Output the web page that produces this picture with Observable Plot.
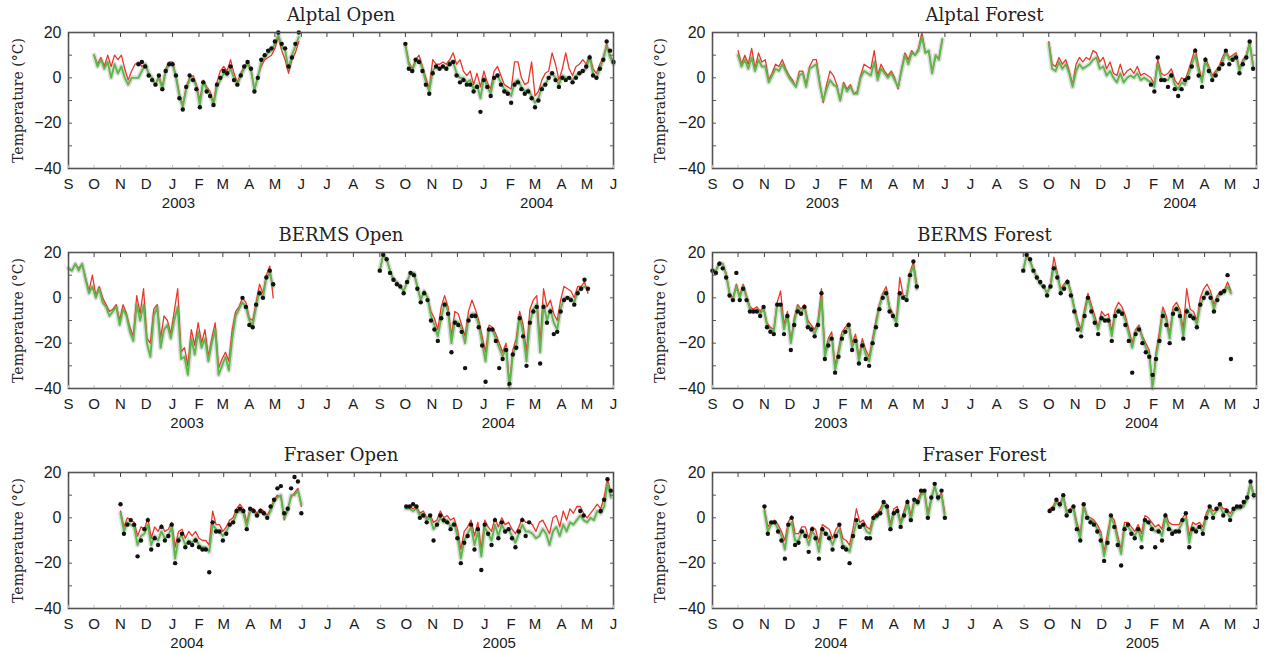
<!DOCTYPE html>
<html><head><meta charset="utf-8">
<script src="https://cdn.jsdelivr.net/npm/d3@7"></script>
<script src="https://cdn.jsdelivr.net/npm/@observablehq/plot@0.6"></script>
<style>
body{margin:0;background:#fff;}
#root{position:relative;width:1269px;height:653px;overflow:hidden;background:#fff}
.panel{position:absolute;overflow:hidden}
</style></head><body><div id="root"></div>
<script>
// ---------- labels ----------
const monthLetters = ["J","F","M","A","M","J","J","A","S","O","N","D"];
const panelTitles = ["Alptal Open","Alptal Forest","BERMS Open","BERMS Forest","Fraser Open","Fraser Forest"];
const axisStartYears = [2002, 2002, 2002, 2002, 2003, 2003];
const yearLabels = [[2003, 2004], [2003, 2004], [2003, 2004], [2003, 2004], [2004, 2005], [2004, 2005]];
const yearLabelDates = [["2003-01-08", "2004-03-03"], ["2003-01-08", "2004-03-03"], ["2003-01-18", "2004-01-18"], ["2003-01-18", "2004-01-18"], ["2004-01-18", "2005-01-18"], ["2004-01-18", "2005-01-18"]];
const yTicksLabelled = [-40, -20, 0, 20];
const stepDays = 4;

// ---------- segment start dates ----------
const alptalStarts = ["2002-10-01", "2003-10-01"];
const bermsStarts = ["2002-09-01", "2003-09-01"];
const fraserStarts = ["2003-11-01", "2004-10-01"];

// ---------- Alptal Open ----------
const alptalOpenGreen1 = [10,5,8,4,7,0,6,2,5,0,-3,0,0,0,3,6,2,0,-3,0,-5,3,6,6,0,-8,-13,-5,-1,0,-4,-12,-2,-5,-7,-12,-4,-1,2,1,4,0,-3,1,4,6,3,-5,0,7,9,11,12,15,19,14,12,4,10,14,18];
const alptalOpenRed1 = [10,6,9,5,10,5,10,8,10,4,-1,3,6,7,5,6,2,0,-3,1,-4,4,7,7,1,-7,-12,-4,0,1,-3,-10,-1,-4,-6,-11,-2,3,5,3,8,2,-2,2,5,7,4,-6,1,5,8,9,10,13,18,12,8,2,8,11,16];
const alptalOpenObs1 = [null,null,null,null,null,null,null,null,null,null,null,null,null,6,7,5,1,-1,-3,1,-5,3,6,6,1,-9,-14,-4,1,-1,-5,-13,-2,-6,-8,-12,-3,0,3,2,5,-1,-3,1,5,7,4,-6,0,8,10,12,13,16,20,15,13,5,9,15,20];
const alptalOpenGreen2 = [14,6,3,7,8,4,-2,-6,3,5,4,5,4,7,7,2,0,0,-2,-1,-5,-3,-9,0,-4,-7,0,1,-2,-5,-6,-8,-2,-1,-4,-6,-5,-8,-11,-9,-4,-3,0,2,0,-3,1,0,0,-1,1,2,3,4,9,2,0,4,8,14,9,6];
const alptalOpenRed2 = [15,7,4,8,10,5,0,-5,8,6,6,7,6,8,11,6,8,3,1,3,-3,2,-4,3,-2,-5,3,5,1,-3,-4,-5,7,7,0,-3,-2,7,-8,-6,-1,2,3,11,6,-1,4,11,4,1,5,6,8,6,10,4,2,6,9,15,10,7];
const alptalOpenObs2 = [15,4,3,8,7,3,-3,-7,2,5,4,5,4,6,7,1,-2,-1,-3,-3,-6,-4,-15,-1,-4,-8,0,1,-3,-6,-7,-11,-3,-2,-5,-7,-6,-9,-13,-10,-5,-3,0,2,-1,-4,0,-1,0,-2,0,2,3,5,9,1,0,4,8,16,12,7];

// ---------- Alptal Forest ----------
const alptalForestGreen1 = [10,5,8,4,9,3,8,5,5,-2,1,4,3,6,3,0,-2,-4,1,2,-4,4,5,6,-3,-10,-5,-1,-3,-4,-10,-3,-6,-4,-7,-7,0,3,2,1,7,-1,4,2,0,2,-1,-4,3,10,6,11,10,12,18,11,12,2,10,8,17];
const alptalForestRed1 = [12,6,10,6,13,4,11,7,8,-1,2,6,5,8,4,1,-1,-4,3,3,-3,5,8,8,-2,-11,-3,3,1,-3,-10,-2,-5,-3,-7,-6,1,6,5,4,12,1,6,3,1,3,0,-5,4,11,8,12,10,13,20,11,12,3,9,9,17];
const alptalForestObs1 = [];
const alptalForestGreen2 = [15,4,3,7,4,6,2,-4,3,6,4,5,6,8,9,4,5,1,3,0,-2,2,-2,0,1,0,2,-1,0,-1,-2,-4,6,0,-1,-1,2,-3,-5,-2,-3,1,6,10,3,-2,7,4,0,2,4,7,11,8,9,10,3,7,9,15,5];
const alptalForestRed2 = [16,6,5,9,6,8,3,-3,6,9,7,9,8,12,11,7,9,4,7,2,1,6,1,3,4,2,5,1,2,1,0,-3,8,2,1,2,4,-1,-3,0,-1,3,8,13,5,-1,9,5,1,3,5,9,12,9,10,11,4,8,10,16,6];
const alptalForestObs2 = [null,null,null,null,null,null,null,null,null,null,null,null,null,null,null,null,null,null,null,null,null,null,null,null,null,null,null,null,null,null,-3,-6,9,-1,-1,-4,1,-5,-8,-5,-1,0,5,12,1,-4,8,3,-1,1,4,6,12,6,8,9,2,6,9,16,4];

// ---------- BERMS Open ----------
const bermsOpenGreen1 = [13,12,15,12,15,8,2,5,0,4,-2,-4,-8,-6,-4,-12,-5,-8,-15,-19,-3,-10,-3,-20,-26,-8,-4,-22,-14,-12,-18,-10,-4,-27,-26,-34,-18,-25,-15,-22,-18,-28,-20,-14,-34,-30,-26,-32,-18,-8,-5,-2,-4,-10,-12,-4,3,0,9,11,5];
const bermsOpenRed1 = [13,12,15,13,15,9,3,10,1,5,0,-3,-6,-5,-3,-10,-3,-7,-13,-17,1,-7,4,-18,-20,-5,-3,-18,-8,-10,-16,-6,4,-24,-22,-30,-14,-21,-11,-20,-14,-26,-18,-11,-31,-27,-24,-28,-14,-6,-4,0,-2,-9,-10,-2,6,2,10,14,0];
const bermsOpenObs1 = [null,null,null,null,null,null,null,null,null,null,null,null,null,null,null,null,null,null,null,null,null,null,null,null,null,null,null,null,null,null,null,null,null,null,null,null,null,null,null,null,null,null,null,null,null,null,null,null,null,null,null,0,-4,-12,-13,-3,2,0,9,12,6];
const bermsOpenGreen2 = [12,19,17,12,8,7,5,3,7,11,11,5,-1,3,0,-8,-12,-17,-9,-2,-6,-20,-10,-11,-14,-20,-9,-7,-7,-12,-20,-28,-14,-14,-18,-22,-26,-22,-40,-25,-21,-8,-16,-28,-11,-5,-3,-24,-3,-10,-5,-11,-14,-5,0,0,0,-2,3,4,5,4];
const bermsOpenRed2 = [12,19,17,12,8,7,5,3,7,11,11,5,-1,3,0,-6,-9,-14,-4,1,-4,-17,-6,-7,-12,-17,-6,-1,-5,-10,-17,-24,-12,-13,-16,-20,-24,-20,-38,-23,-18,-6,-12,-24,-5,-1,1,-20,4,-4,-1,-7,-10,-1,5,4,3,0,5,5,7,2];
const bermsOpenObs2 = [12,19,17,11,8,6,5,2,7,11,10,4,-2,2,-1,-10,-14,-19,-9,-3,-7,-24,-11,-12,-15,-31,-10,-8,-8,-13,-21,-37,-14,-14,-19,-31,-27,-23,-38,-25,-22,-9,-17,-30,-11,-6,-4,-29,-4,-11,-6,-16,-15,-6,-1,0,-1,-3,2,4,8,4];

// ---------- BERMS Forest ----------
const bermsForestGreen1 = [12,12,15,15,10,2,-1,5,0,5,0,-5,-6,-5,-7,-5,-12,-14,-15,-3,-3,-14,-8,-20,-11,-4,-7,-4,-12,-13,-16,-12,0,-26,-20,-17,-32,-25,-17,-15,-12,-22,-18,-28,-20,-25,-28,-20,-12,-4,1,3,-5,-8,-11,2,0,0,10,14,4];
const bermsForestRed1 = [12,12,16,15,11,2,0,6,1,6,1,-4,-5,-4,-6,-4,-11,-13,-14,-2,3,-12,-6,-19,-9,-3,-5,-3,-10,-12,-14,-10,4,-24,-18,-15,-30,-23,-15,-13,-11,-20,-16,-26,-18,-23,-26,-18,-10,-3,2,5,-4,-7,-10,9,1,1,11,16,6];
const bermsForestObs1 = [12,11,15,13,9,1,-1,11,-1,4,-1,-6,-6,-6,-8,-4,-13,-15,-16,-3,-3,-16,-8,-23,-12,-6,-7,-4,-13,-14,-17,-12,2,-27,-21,-18,-33,-26,-18,-15,-12,-23,-19,-29,-21,-27,-30,-20,-13,-5,0,2,-6,-8,-12,2,0,-1,10,16,5];
const bermsForestGreen2 = [12,19,16,12,9,6,5,2,5,14,10,3,5,7,2,-5,-12,-15,-7,0,-5,-10,-14,-8,-10,-9,-17,-7,-5,-6,-10,-16,-22,-15,-13,-18,-22,-25,-40,-26,-18,-6,-10,-18,-6,-4,-7,-17,-5,-7,-8,-12,-3,0,3,1,-5,0,2,2,5,2];
const bermsForestRed2 = [12,19,17,12,9,6,5,2,6,18,11,4,6,8,3,-4,-10,-14,-5,2,-3,-8,-13,-6,-8,-7,-15,-5,-2,-4,-8,-14,-20,-14,-12,-17,-20,-23,-40,-24,-15,-4,-8,-16,-4,-2,-5,-14,4,-5,-6,-10,0,4,6,3,-3,1,3,3,7,3];
const bermsForestObs2 = [12,19,17,12,9,7,5,1,5,13,9,2,4,7,1,-6,-14,-17,-8,0,-6,-11,-16,-9,-10,-10,-19,-8,-6,-7,-12,-19,-33,-16,-14,-20,-24,-26,-34,-27,-19,-8,-12,-20,-7,-5,-8,-18,-6,-8,-9,-13,-3,0,2,0,-6,-1,2,3,10,-27];

// ---------- Fraser Open ----------
const fraserOpenGreen1 = [2,-6,-2,-3,-4,-12,-8,-7,-3,-12,-8,-10,-6,-9,-8,-4,-18,-9,-8,-12,-10,-11,-9,-12,-13,-13,-15,-3,-5,-6,-8,-6,-3,-2,2,3,2,-4,3,3,1,3,2,0,3,7,9,10,0,3,10,10,12,6];
const fraserOpenRed1 = [3,-4,0,-1,-2,-8,-4,-5,0,-9,-4,-6,-3,-6,-5,-2,-13,-6,-5,-9,-6,-8,-6,-9,-10,-10,-12,3,-3,-3,-6,-4,-1,0,4,6,4,-2,4,4,2,4,3,1,4,8,10,9,-1,4,9,11,13,5];
const fraserOpenObs1 = [6,-7,-3,-1,-3,-17,-10,-5,-1,-14,-9,-12,-4,-10,-8,-3,-20,-10,-7,-13,-11,-12,-10,-13,-14,-14,-24,-2,-6,-6,-10,-7,-3,-2,3,4,3,-5,4,3,1,3,2,0,5,8,13,14,2,4,13,18,16,2];
const fraserOpenGreen2 = [4,4,3,4,1,2,-1,0,-5,-3,0,-2,-1,-4,-2,-8,-18,-10,-7,-4,-12,-6,-17,-4,-7,-10,-3,-8,-3,-6,-5,-8,-11,-7,-3,-6,-6,-7,-9,-8,-5,-7,-12,-6,-4,-8,-3,-6,-2,-3,-1,1,-1,-2,0,-1,3,2,5,15,9];
const fraserOpenRed2 = [5,5,4,5,2,3,0,1,-2,-1,3,0,1,-1,0,-5,-14,-6,-4,-1,-8,-2,-14,-1,-4,-6,0,-4,0,-3,-2,-5,-7,-4,0,-2,-2,-3,-6,-2,-1,-4,-7,0,1,-4,3,-1,4,2,5,5,2,0,2,4,6,4,9,17,11];
const fraserOpenObs2 = [5,5,6,5,0,1,-2,1,-10,-3,1,-1,-2,-5,-3,-9,-20,-11,-8,-3,-14,-5,-23,-3,-7,-12,-1,-9,-2,-6,-5,-9,-13,-6,-1,-8,-2,null,null,null,null,null,null,null,null,null,null,null,null,null,null,3,1,null,null,null,null,3,8,17,12];

// ---------- Fraser Forest ----------
const fraserForestGreen1 = [3,-6,-3,-2,-5,-8,-14,-4,-2,-10,-10,-6,-7,-12,-6,-8,-15,-5,-7,-8,-12,-8,-5,-12,-13,-15,-8,-2,-4,-3,-6,-7,-1,0,2,6,4,-5,2,3,-3,1,6,-1,7,6,10,11,0,8,14,8,10,0];
const fraserForestRed1 = [4,-4,-2,-1,-3,-6,-10,-2,1,-7,-7,-4,-4,-9,-4,-5,-11,-3,-4,-5,-9,-5,-3,-9,-10,-12,-5,4,-2,-1,-4,-5,1,2,4,7,6,-3,4,5,-2,3,8,1,8,8,11,12,2,9,14,9,11,2];
const fraserForestObs1 = [5,-7,-2,-2,-6,-10,-18,-3,0,-12,-11,-6,-8,-15,-5,-9,-18,-5,-7,-9,-14,-8,-3,-13,-14,-20,-8,-1,-4,-3,-9,-9,0,1,2,7,5,-5,2,3,-4,1,7,-1,8,7,12,12,0,9,15,9,12,0];
const fraserForestGreen2 = [3,4,7,5,9,2,3,4,-4,-9,5,0,-1,-2,-5,-8,-17,-10,0,-3,-10,-16,-4,-4,-6,-8,-5,-10,-1,-2,-4,-6,-5,-8,0,-4,-6,-6,-5,-2,0,-11,-4,-5,-4,-6,0,4,1,3,5,2,3,0,3,4,4,5,8,15,9];
const fraserForestRed2 = [4,5,8,6,10,3,4,5,-2,-7,6,1,0,-1,-3,-6,-15,-7,1,-1,-8,-14,-2,-2,-4,-6,-3,-7,1,0,-2,-4,-3,-5,2,-2,-3,-3,-3,0,2,-8,-2,-3,-2,-4,2,5,3,4,6,4,4,2,4,5,5,6,9,16,10];
const fraserForestObs2 = [3,4,8,6,10,1,3,5,-5,-10,6,0,-2,-3,-6,-10,-19,-11,1,-4,-12,-21,-5,-3,-7,-9,-5,-13,-1,-2,-5,-13,-6,-10,1,-5,-7,-6,-6,-1,2,-13,-5,-6,-4,-7,0,5,0,4,6,1,3,-1,4,5,5,7,9,16,10];

// ---------- assemble ----------
const panelSegments = [
  [[alptalStarts[0], alptalOpenGreen1, alptalOpenRed1, alptalOpenObs1], [alptalStarts[1], alptalOpenGreen2, alptalOpenRed2, alptalOpenObs2]],
  [[alptalStarts[0], alptalForestGreen1, alptalForestRed1, alptalForestObs1], [alptalStarts[1], alptalForestGreen2, alptalForestRed2, alptalForestObs2]],
  [[bermsStarts[0], bermsOpenGreen1, bermsOpenRed1, bermsOpenObs1], [bermsStarts[1], bermsOpenGreen2, bermsOpenRed2, bermsOpenObs2]],
  [[bermsStarts[0], bermsForestGreen1, bermsForestRed1, bermsForestObs1], [bermsStarts[1], bermsForestGreen2, bermsForestRed2, bermsForestObs2]],
  [[fraserStarts[0], fraserOpenGreen1, fraserOpenRed1, fraserOpenObs1], [fraserStarts[1], fraserOpenGreen2, fraserOpenRed2, fraserOpenObs2]],
  [[fraserStarts[0], fraserForestGreen1, fraserForestRed1, fraserForestObs1], [fraserStarts[1], fraserForestGreen2, fraserForestRed2, fraserForestObs2]]
];

const parseDay = s => new Date(s + "T00:00:00Z");

function rowsFor(segs) {
  const rows = [];
  segs.forEach(([start, green, red, obs], k) => {
    const s = parseDay(start);
    const n = Math.max(green.length, red.length, obs.length);
    for (let i = 0; i < n; i++) {
      rows.push({seg: k, date: d3.utcDay.offset(s, stepDays * i),
        green: green[i] ?? null, red: red[i] ?? null, obs: obs[i] ?? null});
    }
  });
  return rows;
}

const SANS = "'Liberation Sans', Arial, Helvetica, sans-serif";
const SERIF = "'DejaVu Serif', 'Liberation Serif', serif";
const root = document.getElementById("root");

panelTitles.forEach((title, p) => {
  const col = p % 2, row = Math.floor(p / 2);
  const left = col === 0 ? 0 : 634;
  const width = col === 0 ? 634 : 625;
  const mL = col === 0 ? 68 : 78;
  const mR = col === 0 ? 21 : 3;
  const y0 = axisStartYears[p];
  const x0 = new Date(Date.UTC(y0, 8, 1)), x1 = new Date(Date.UTC(y0 + 2, 5, 1));
  const monthTicks = d3.utcMonth.range(x0, d3.utcDay.offset(x1, 1));
  const rows = rowsFor(panelSegments[p]);
  const gRows = rows.filter(d => d.green != null);
  const rRows = rows.filter(d => d.red != null);
  const oRows = rows.filter(d => d.obs != null);
  const yearPos = yearLabels[p].map((y, j) => ({year: y, date: parseDay(yearLabelDates[p][j])}));

  const chart = Plot.plot({
    width, height: 213,
    marginTop: 32, marginBottom: 45, marginLeft: mL, marginRight: mR,
    x: {type: "utc", domain: [x0, x1]},
    y: {domain: [-40, 20]},
    style: {fontFamily: SANS, fontSize: "15px", color: "#1a1a1a", background: "transparent", overflow: "visible"},
    marks: [
      Plot.line(gRows, {x: "date", y: "green", z: "seg", stroke: "#dedede", strokeWidth: 5}),
      Plot.line(rRows, {x: "date", y: "red", z: "seg", stroke: "#e8382c", strokeWidth: 1.3}),
      Plot.line(gRows, {x: "date", y: "green", z: "seg", stroke: "#5cb84a", strokeWidth: 1.9}),
      Plot.dot(oRows, {x: "date", y: "obs", r: 2.2, fill: "#111", stroke: "none"}),
      Plot.frame({stroke: "#555", strokeWidth: 1.6}),
      Plot.axisX({anchor: "top", ticks: monthTicks, tickSize: -4, tickFormat: () => "", stroke: "#444", label: null}),
      Plot.axisX({anchor: "bottom", ticks: monthTicks, tickSize: -3, tickFormat: () => "", stroke: "#bbb", label: null}),
      Plot.axisX({anchor: "bottom", ticks: monthTicks, tickSize: 0, tickPadding: 10, tickFormat: d => monthLetters[d.getUTCMonth()], fontSize: 15, label: null}),
      Plot.axisY({anchor: "left", ticks: d3.range(-40, 21, 10), tickSize: -4, tickFormat: () => "", stroke: "#555", label: null}),
      Plot.axisY({anchor: "right", ticks: d3.range(-40, 21, 10), tickSize: -4, tickFormat: () => "", stroke: "#555", label: null}),
      Plot.axisY({anchor: "left", ticks: yTicksLabelled, tickSize: 0, tickPadding: 7, fontSize: 16, label: null}),
      Plot.text(yearPos, {x: "date", frameAnchor: "bottom", dy: 35, lineAnchor: "middle", text: d => String(d.year), fontSize: 15, fill: "#1a1a1a"}),
      Plot.text([title], {frameAnchor: "top", dy: -17, lineAnchor: "middle", text: d => d, fontFamily: SERIF, fontSize: 18, fill: "#222"}),
      Plot.text(["Temperature (°C)"], {frameAnchor: "left", dx: col === 0 ? -50 : -52, rotate: -90, textAnchor: "middle", lineAnchor: "middle", text: d => d, fontFamily: SERIF, fontSize: 14, fill: "#222"})
    ]
  });
  const wrap = document.createElement("div");
  wrap.className = "panel";
  wrap.style.left = left + "px";
  wrap.style.top = (row * 220) + "px";
  wrap.style.width = width + "px";
  wrap.style.height = "213px";
  wrap.appendChild(chart);
  root.appendChild(wrap);
});
</script></body></html>
